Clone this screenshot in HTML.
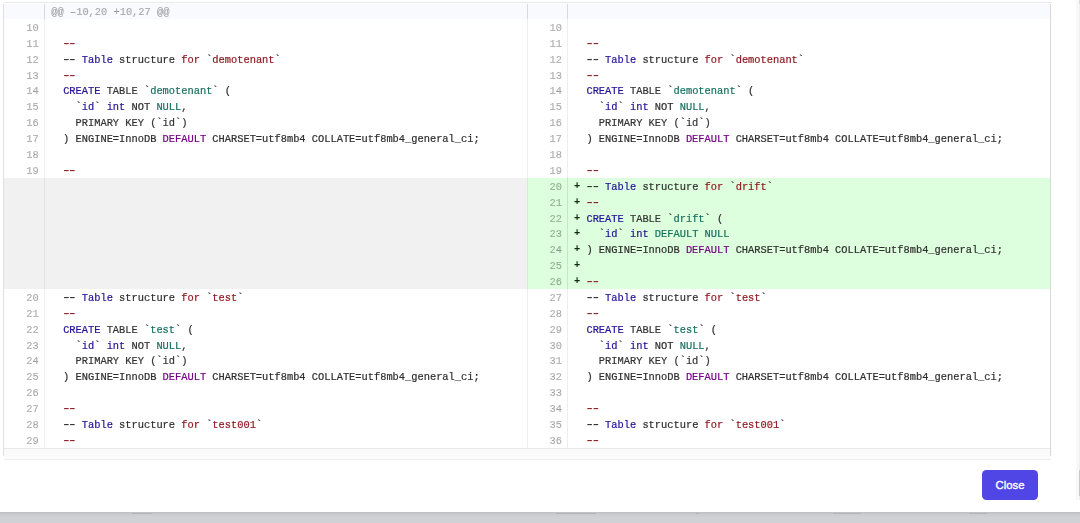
<!DOCTYPE html>
<html><head><meta charset="utf-8"><title>diff</title><style>
*{margin:0;padding:0;box-sizing:border-box}
html,body{width:1080px;height:523px;overflow:hidden;background:#fff}
body{position:relative;font-family:"Liberation Mono",monospace;font-size:10.375px;color:#2e2e2e;-webkit-text-stroke:0.2px}
div{position:absolute}
.row{height:15.88px;line-height:15.88px;white-space:pre;padding-top:1.6px}
.ln{text-align:right;color:rgba(0,0,0,.3)}
.n{color:#221199}
.r{color:#8f1a22}
.t{color:#17705f}
.p{color:#770088}
.g{color:#333}
.txt{left:0;top:0;width:1080px;height:523px;will-change:transform}
b{font-weight:bold;-webkit-text-stroke:0;position:relative;top:-1px}
i{font-style:normal;font-weight:bold;color:#102810;-webkit-text-stroke:0;position:relative;top:-1px}
.btn{left:982px;top:470px;width:56px;height:29.6px;border-radius:4.5px;background:#4f46e5;color:#fff;font-family:"Liberation Sans",sans-serif;font-weight:normal;font-size:11.3px;line-height:29.6px;padding-top:1.2px;text-align:center;-webkit-text-stroke:0.35px #fff}
</style></head>
<body>
<div style="left:3.30px;top:178.18px;width:524.00px;height:15.88px;background:#f1f1f1"></div>
<div style="left:3.30px;top:194.06px;width:524.00px;height:15.88px;background:#f1f1f1"></div>
<div style="left:3.30px;top:209.94px;width:524.00px;height:15.88px;background:#f1f1f1"></div>
<div style="left:3.30px;top:225.82px;width:524.00px;height:15.88px;background:#f1f1f1"></div>
<div style="left:3.30px;top:241.70px;width:524.00px;height:15.88px;background:#f1f1f1"></div>
<div style="left:3.30px;top:257.58px;width:524.00px;height:15.88px;background:#f1f1f1"></div>
<div style="left:3.30px;top:273.46px;width:524.00px;height:15.88px;background:#f1f1f1"></div>
<div style="left:527.30px;top:178.18px;width:523.00px;height:15.88px;background:#ddffdd"></div>
<div style="left:527.30px;top:194.06px;width:523.00px;height:15.88px;background:#ddffdd"></div>
<div style="left:527.30px;top:209.94px;width:523.00px;height:15.88px;background:#ddffdd"></div>
<div style="left:527.30px;top:225.82px;width:523.00px;height:15.88px;background:#ddffdd"></div>
<div style="left:527.30px;top:241.70px;width:523.00px;height:15.88px;background:#ddffdd"></div>
<div style="left:527.30px;top:257.58px;width:523.00px;height:15.88px;background:#ddffdd"></div>
<div style="left:527.30px;top:273.46px;width:523.00px;height:15.88px;background:#ddffdd"></div>
<div style="left:3.30px;top:3.50px;width:1047.00px;height:15.88px;background:#f8fafd"></div>
<div style="left:3.30px;top:448.14px;width:1047.00px;height:7.50px;background:#fafafa"></div>
<div style="left:3.30px;top:448.14px;width:1047.00px;height:0.80px;background:#e8e8e8"></div>
<div style="left:4.00px;top:2.10px;width:1047.50px;height:1.00px;background:#e8e8e8"></div>
<div style="left:4.30px;top:455.60px;width:1047.00px;height:3.40px;background:#fcfcfc"></div>
<div style="left:4.30px;top:458.80px;width:1047.00px;height:1.00px;background:#efefef"></div>
<div style="left:3.30px;top:3.50px;width:1.00px;height:452.10px;background:#dfdfdf"></div>
<div style="left:1050.30px;top:3.50px;width:1.00px;height:452.10px;background:#d8d8d8"></div>
<div style="left:44.00px;top:19.38px;width:1.00px;height:428.76px;background:#eeeeee"></div>
<div style="left:44.00px;top:3.50px;width:1.00px;height:15.88px;background:#d6dade"></div>
<div style="left:527.30px;top:19.38px;width:1.00px;height:428.76px;background:#eeeeee"></div>
<div style="left:527.30px;top:3.50px;width:1.00px;height:15.88px;background:#d6dade"></div>
<div style="left:567.30px;top:19.38px;width:1.00px;height:428.76px;background:#eeeeee"></div>
<div style="left:567.30px;top:3.50px;width:1.00px;height:15.88px;background:#d6dade"></div>
<div style="left:44.00px;top:178.18px;width:1.00px;height:111.16px;background:#e1e1e1"></div>
<div style="left:527.30px;top:178.18px;width:1.00px;height:111.16px;background:#d2efd2"></div>
<div style="left:567.30px;top:178.18px;width:1.00px;height:111.16px;background:#c6e6c6"></div>
<div class="txt">
<div class="row ln" style="left:51.30px;top:3.50px;text-align:left">@@ &#8211;10,20 +10,27 @@</div>
<div class="row ln" style="left:3.30px;width:35.40px;top:19.38px">10</div>
<div class="row" style="left:50.70px;top:19.38px">  </div>
<div class="row ln" style="left:3.30px;width:35.40px;top:35.26px">11</div>
<div class="row" style="left:50.70px;top:35.26px">  <span class="r"><b>&#8211;&#8211;</b></span></div>
<div class="row ln" style="left:3.30px;width:35.40px;top:51.14px">12</div>
<div class="row" style="left:50.70px;top:51.14px">  <b>&#8211;&#8211;</b> <span class="n">Table</span> structure <span class="r">for</span> `<span class="r">demotenant</span>`</div>
<div class="row ln" style="left:3.30px;width:35.40px;top:67.02px">13</div>
<div class="row" style="left:50.70px;top:67.02px">  <span class="r"><b>&#8211;&#8211;</b></span></div>
<div class="row ln" style="left:3.30px;width:35.40px;top:82.90px">14</div>
<div class="row" style="left:50.70px;top:82.90px">  <span class="n">CREATE</span> <span class="g">TABLE</span> `<span class="t">demotenant</span>` (</div>
<div class="row ln" style="left:3.30px;width:35.40px;top:98.78px">15</div>
<div class="row" style="left:50.70px;top:98.78px">    `<span class="n">id</span>` <span class="n">int</span> NOT <span class="t">NULL</span>,</div>
<div class="row ln" style="left:3.30px;width:35.40px;top:114.66px">16</div>
<div class="row" style="left:50.70px;top:114.66px">  <span class="g">  PRIMARY KEY (`id`)</span></div>
<div class="row ln" style="left:3.30px;width:35.40px;top:130.54px">17</div>
<div class="row" style="left:50.70px;top:130.54px">  ) ENGINE=InnoDB <span class="p">DEFAULT</span> CHARSET=utf8mb4 COLLATE=utf8mb4_general_ci;</div>
<div class="row ln" style="left:3.30px;width:35.40px;top:146.42px">18</div>
<div class="row" style="left:50.70px;top:146.42px">  </div>
<div class="row ln" style="left:3.30px;width:35.40px;top:162.30px">19</div>
<div class="row" style="left:50.70px;top:162.30px">  <span class="r"><b>&#8211;&#8211;</b></span></div>
<div class="row ln" style="left:3.30px;width:35.40px;top:289.34px">20</div>
<div class="row" style="left:50.70px;top:289.34px">  <b>&#8211;&#8211;</b> <span class="n">Table</span> structure <span class="r">for</span> `<span class="r">test</span>`</div>
<div class="row ln" style="left:3.30px;width:35.40px;top:305.22px">21</div>
<div class="row" style="left:50.70px;top:305.22px">  <span class="r"><b>&#8211;&#8211;</b></span></div>
<div class="row ln" style="left:3.30px;width:35.40px;top:321.10px">22</div>
<div class="row" style="left:50.70px;top:321.10px">  <span class="n">CREATE</span> <span class="g">TABLE</span> `<span class="t">test</span>` (</div>
<div class="row ln" style="left:3.30px;width:35.40px;top:336.98px">23</div>
<div class="row" style="left:50.70px;top:336.98px">    `<span class="n">id</span>` <span class="n">int</span> NOT <span class="t">NULL</span>,</div>
<div class="row ln" style="left:3.30px;width:35.40px;top:352.86px">24</div>
<div class="row" style="left:50.70px;top:352.86px">  <span class="g">  PRIMARY KEY (`id`)</span></div>
<div class="row ln" style="left:3.30px;width:35.40px;top:368.74px">25</div>
<div class="row" style="left:50.70px;top:368.74px">  ) ENGINE=InnoDB <span class="p">DEFAULT</span> CHARSET=utf8mb4 COLLATE=utf8mb4_general_ci;</div>
<div class="row ln" style="left:3.30px;width:35.40px;top:384.62px">26</div>
<div class="row" style="left:50.70px;top:384.62px">  </div>
<div class="row ln" style="left:3.30px;width:35.40px;top:400.50px">27</div>
<div class="row" style="left:50.70px;top:400.50px">  <span class="r"><b>&#8211;&#8211;</b></span></div>
<div class="row ln" style="left:3.30px;width:35.40px;top:416.38px">28</div>
<div class="row" style="left:50.70px;top:416.38px">  <b>&#8211;&#8211;</b> <span class="n">Table</span> structure <span class="r">for</span> `<span class="r">test001</span>`</div>
<div class="row ln" style="left:3.30px;width:35.40px;top:432.26px">29</div>
<div class="row" style="left:50.70px;top:432.26px">  <span class="r"><b>&#8211;&#8211;</b></span></div>
<div class="row ln" style="left:527.30px;width:34.70px;top:19.38px">10</div>
<div class="row" style="left:574.00px;top:19.38px">  </div>
<div class="row ln" style="left:527.30px;width:34.70px;top:35.26px">11</div>
<div class="row" style="left:574.00px;top:35.26px">  <span class="r"><b>&#8211;&#8211;</b></span></div>
<div class="row ln" style="left:527.30px;width:34.70px;top:51.14px">12</div>
<div class="row" style="left:574.00px;top:51.14px">  <b>&#8211;&#8211;</b> <span class="n">Table</span> structure <span class="r">for</span> `<span class="r">demotenant</span>`</div>
<div class="row ln" style="left:527.30px;width:34.70px;top:67.02px">13</div>
<div class="row" style="left:574.00px;top:67.02px">  <span class="r"><b>&#8211;&#8211;</b></span></div>
<div class="row ln" style="left:527.30px;width:34.70px;top:82.90px">14</div>
<div class="row" style="left:574.00px;top:82.90px">  <span class="n">CREATE</span> <span class="g">TABLE</span> `<span class="t">demotenant</span>` (</div>
<div class="row ln" style="left:527.30px;width:34.70px;top:98.78px">15</div>
<div class="row" style="left:574.00px;top:98.78px">    `<span class="n">id</span>` <span class="n">int</span> NOT <span class="t">NULL</span>,</div>
<div class="row ln" style="left:527.30px;width:34.70px;top:114.66px">16</div>
<div class="row" style="left:574.00px;top:114.66px">  <span class="g">  PRIMARY KEY (`id`)</span></div>
<div class="row ln" style="left:527.30px;width:34.70px;top:130.54px">17</div>
<div class="row" style="left:574.00px;top:130.54px">  ) ENGINE=InnoDB <span class="p">DEFAULT</span> CHARSET=utf8mb4 COLLATE=utf8mb4_general_ci;</div>
<div class="row ln" style="left:527.30px;width:34.70px;top:146.42px">18</div>
<div class="row" style="left:574.00px;top:146.42px">  </div>
<div class="row ln" style="left:527.30px;width:34.70px;top:162.30px">19</div>
<div class="row" style="left:574.00px;top:162.30px">  <span class="r"><b>&#8211;&#8211;</b></span></div>
<div class="row ln" style="left:527.30px;width:34.70px;top:178.18px">20</div>
<div class="row" style="left:574.00px;top:178.18px"><i>+</i> <b>&#8211;&#8211;</b> <span class="n">Table</span> structure <span class="r">for</span> `<span class="r">drift</span>`</div>
<div class="row ln" style="left:527.30px;width:34.70px;top:194.06px">21</div>
<div class="row" style="left:574.00px;top:194.06px"><i>+</i> <span class="r"><b>&#8211;&#8211;</b></span></div>
<div class="row ln" style="left:527.30px;width:34.70px;top:209.94px">22</div>
<div class="row" style="left:574.00px;top:209.94px"><i>+</i> <span class="n">CREATE</span> <span class="g">TABLE</span> `<span class="t">drift</span>` (</div>
<div class="row ln" style="left:527.30px;width:34.70px;top:225.82px">23</div>
<div class="row" style="left:574.00px;top:225.82px"><i>+</i>   `<span class="n">id</span>` <span class="n">int</span> <span class="t">DEFAULT</span> <span class="t">NULL</span></div>
<div class="row ln" style="left:527.30px;width:34.70px;top:241.70px">24</div>
<div class="row" style="left:574.00px;top:241.70px"><i>+</i> ) ENGINE=InnoDB <span class="p">DEFAULT</span> CHARSET=utf8mb4 COLLATE=utf8mb4_general_ci;</div>
<div class="row ln" style="left:527.30px;width:34.70px;top:257.58px">25</div>
<div class="row" style="left:574.00px;top:257.58px"><i>+</i> </div>
<div class="row ln" style="left:527.30px;width:34.70px;top:273.46px">26</div>
<div class="row" style="left:574.00px;top:273.46px"><i>+</i> <span class="r"><b>&#8211;&#8211;</b></span></div>
<div class="row ln" style="left:527.30px;width:34.70px;top:289.34px">27</div>
<div class="row" style="left:574.00px;top:289.34px">  <b>&#8211;&#8211;</b> <span class="n">Table</span> structure <span class="r">for</span> `<span class="r">test</span>`</div>
<div class="row ln" style="left:527.30px;width:34.70px;top:305.22px">28</div>
<div class="row" style="left:574.00px;top:305.22px">  <span class="r"><b>&#8211;&#8211;</b></span></div>
<div class="row ln" style="left:527.30px;width:34.70px;top:321.10px">29</div>
<div class="row" style="left:574.00px;top:321.10px">  <span class="n">CREATE</span> <span class="g">TABLE</span> `<span class="t">test</span>` (</div>
<div class="row ln" style="left:527.30px;width:34.70px;top:336.98px">30</div>
<div class="row" style="left:574.00px;top:336.98px">    `<span class="n">id</span>` <span class="n">int</span> NOT <span class="t">NULL</span>,</div>
<div class="row ln" style="left:527.30px;width:34.70px;top:352.86px">31</div>
<div class="row" style="left:574.00px;top:352.86px">  <span class="g">  PRIMARY KEY (`id`)</span></div>
<div class="row ln" style="left:527.30px;width:34.70px;top:368.74px">32</div>
<div class="row" style="left:574.00px;top:368.74px">  ) ENGINE=InnoDB <span class="p">DEFAULT</span> CHARSET=utf8mb4 COLLATE=utf8mb4_general_ci;</div>
<div class="row ln" style="left:527.30px;width:34.70px;top:384.62px">33</div>
<div class="row" style="left:574.00px;top:384.62px">  </div>
<div class="row ln" style="left:527.30px;width:34.70px;top:400.50px">34</div>
<div class="row" style="left:574.00px;top:400.50px">  <span class="r"><b>&#8211;&#8211;</b></span></div>
<div class="row ln" style="left:527.30px;width:34.70px;top:416.38px">35</div>
<div class="row" style="left:574.00px;top:416.38px">  <b>&#8211;&#8211;</b> <span class="n">Table</span> structure <span class="r">for</span> `<span class="r">test001</span>`</div>
<div class="row ln" style="left:527.30px;width:34.70px;top:432.26px">36</div>
<div class="row" style="left:574.00px;top:432.26px">  <span class="r"><b>&#8211;&#8211;</b></span></div>
</div>
<div style="left:1075.60px;top:0.00px;width:4.40px;height:500.00px;background:#f8f8f9"></div>
<div style="left:1078.60px;top:0.00px;width:1.40px;height:500.00px;background:#efeff0"></div>
<div style="left:1078.60px;top:0.00px;width:1.40px;height:4.00px;background:#dedede"></div>
<div style="left:1078.80px;top:470.00px;width:1.20px;height:26.00px;background:#c8c8c8"></div>
<div style="left:0.00px;top:512.30px;width:1080.00px;height:11.00px;background:linear-gradient(#bdbec2,#c9cacd 2px,#d0d1d5 5px)"></div>
<div style="left:132.00px;top:512.70px;width:20.00px;height:1.20px;background:rgba(70,70,80,.14)"></div>
<div style="left:556.00px;top:512.70px;width:40.00px;height:1.20px;background:rgba(70,70,80,.14)"></div>
<div style="left:696.00px;top:512.70px;width:3.00px;height:1.20px;background:rgba(70,70,80,.14)"></div>
<div style="left:833.00px;top:512.70px;width:28.00px;height:1.20px;background:rgba(70,70,80,.14)"></div>
<div style="left:969.00px;top:512.70px;width:18.00px;height:1.20px;background:rgba(70,70,80,.14)"></div>
<div class="btn">Close</div>
</body></html>
